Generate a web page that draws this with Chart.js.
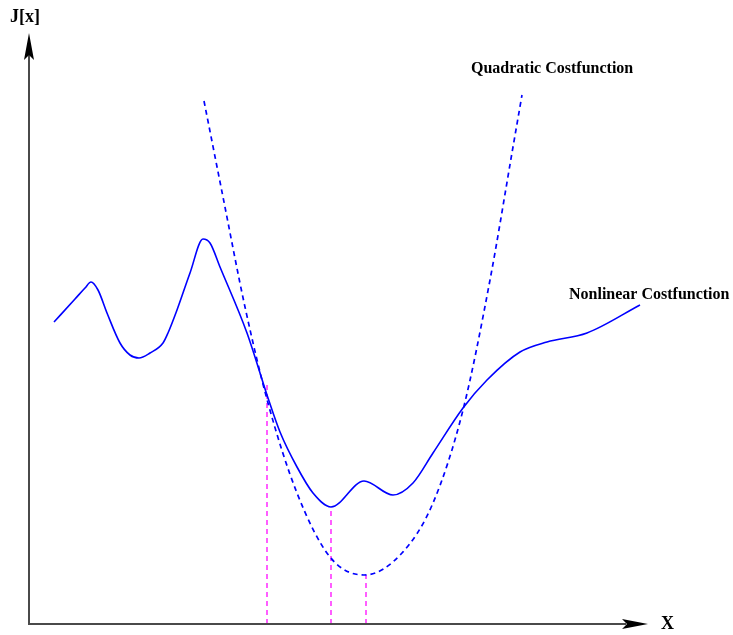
<!DOCTYPE html>
<html>
<head>
<meta charset="utf-8">
<style>
  html, body { margin: 0; padding: 0; background: #ffffff; }
  canvas { display: block; }
</style>
<script src="https://cdn.jsdelivr.net/npm/chart.js@4/dist/chart.umd.min.js"></script>
</head>
<body>
<canvas id="cost" width="733" height="635"></canvas>
<script>
// Sample positions along the parameter axis and cost values J[x]
const nonlinearX = [25, 46, 56, 62, 69, 78, 91, 101, 110, 121, 134, 139, 148, 161, 174, 181, 191, 218, 239, 251, 268, 284, 302, 335, 364, 384, 404, 434, 458, 491, 518, 558, 611];
const nonlinearJ = [302, 325, 336, 342, 334, 311, 281, 269, 266, 271, 281, 291, 314, 351, 385, 381, 357, 291, 226, 192, 157, 131, 117, 143, 129, 141, 171, 216, 244, 272, 282, 291, 319];

const quadraticX = [175, 194, 216, 239, 268, 301, 335, 373, 404, 434, 461, 484, 493];
const quadraticJ = [523, 427, 317, 221, 131, 67, 49, 71, 121, 214, 344, 477, 529];

// Drop lines: crossing of the two curves, nonlinear minimum, quadratic minimum
const dropX = [238, 302, 337];
const dropTop = [239, 117, 49];

const xMax = 621;
const yMax = 591;

const toPoints = (xs, ys) => xs.map((x, i) => ({ x: x, y: ys[i] }));

const dropSets = dropX.map((x, i) => ({
  label: 'drop' + i,
  data: [{ x: x, y: 0 }, { x: x, y: dropTop[i] }],
  borderColor: '#ff4dff',
  borderWidth: 1.8,
  borderDash: [5, 4],
  pointRadius: 0,
  showLine: true,
  fill: false,
  clip: false
}));

// Axes with notched arrowheads and the text labels
const diagram = {
  id: 'diagram',
  afterDatasetsDraw(chart) {
    const { ctx, scales } = chart;
    const x0 = scales.x.getPixelForValue(0);
    const y0 = scales.y.getPixelForValue(0);
    const xEnd = scales.x.getPixelForValue(619);
    const yEnd = scales.y.getPixelForValue(yMax);
    ctx.save();
    ctx.strokeStyle = '#4a4a4a';
    ctx.lineWidth = 2;
    ctx.beginPath();
    ctx.moveTo(x0, y0 + 1);
    ctx.lineTo(x0, yEnd + 22);
    ctx.moveTo(x0 - 1, y0);
    ctx.lineTo(xEnd - 22, y0);
    ctx.stroke();

    ctx.fillStyle = '#000000';
    ctx.beginPath();
    ctx.moveTo(x0, yEnd);
    ctx.lineTo(x0 + 5, yEnd + 27);
    ctx.lineTo(x0, yEnd + 22);
    ctx.lineTo(x0 - 5, yEnd + 27);
    ctx.closePath();
    ctx.fill();

    ctx.beginPath();
    ctx.moveTo(xEnd, y0);
    ctx.lineTo(xEnd - 26, y0 - 5);
    ctx.lineTo(xEnd - 21, y0);
    ctx.lineTo(xEnd - 26, y0 + 5);
    ctx.closePath();
    ctx.fill();

    ctx.textBaseline = 'alphabetic';
    ctx.textAlign = 'left';
    ctx.font = 'bold 18px "Liberation Serif", "DejaVu Serif", serif';
    ctx.fillText('J[x]', 10, 22);
    ctx.fillText('X', 661, 629);
    ctx.font = 'bold 16px "Liberation Serif", "DejaVu Serif", serif';
    ctx.fillText('Quadratic Costfunction', 471, 73);
    ctx.fillText('Nonlinear Costfunction', 569, 299);
    ctx.restore();
  }
};

new Chart(document.getElementById('cost'), {
  type: 'scatter',
  data: {
    datasets: [
      {
        label: 'Nonlinear Costfunction',
        data: toPoints(nonlinearX, nonlinearJ),
        borderColor: '#0000ff',
        borderWidth: 1.6,
        pointRadius: 0,
        showLine: true,
        cubicInterpolationMode: 'monotone',
        fill: false,
        clip: false
      },
      {
        label: 'Quadratic Costfunction',
        data: toPoints(quadraticX, quadraticJ),
        borderColor: '#0000ff',
        borderWidth: 1.7,
        borderDash: [5, 4],
        pointRadius: 0,
        showLine: true,
        cubicInterpolationMode: 'monotone',
        fill: false,
        clip: false
      },
      ...dropSets
    ]
  },
  options: {
    responsive: false,
    animation: false,
    layout: { padding: { left: 29, right: 83, top: 33, bottom: 11 } },
    plugins: { legend: { display: false }, tooltip: { enabled: false } },
    scales: {
      x: { type: 'linear', min: 0, max: xMax, display: false },
      y: { type: 'linear', min: 0, max: yMax, display: false }
    }
  },
  plugins: [diagram]
});
</script>
</body>
</html>
